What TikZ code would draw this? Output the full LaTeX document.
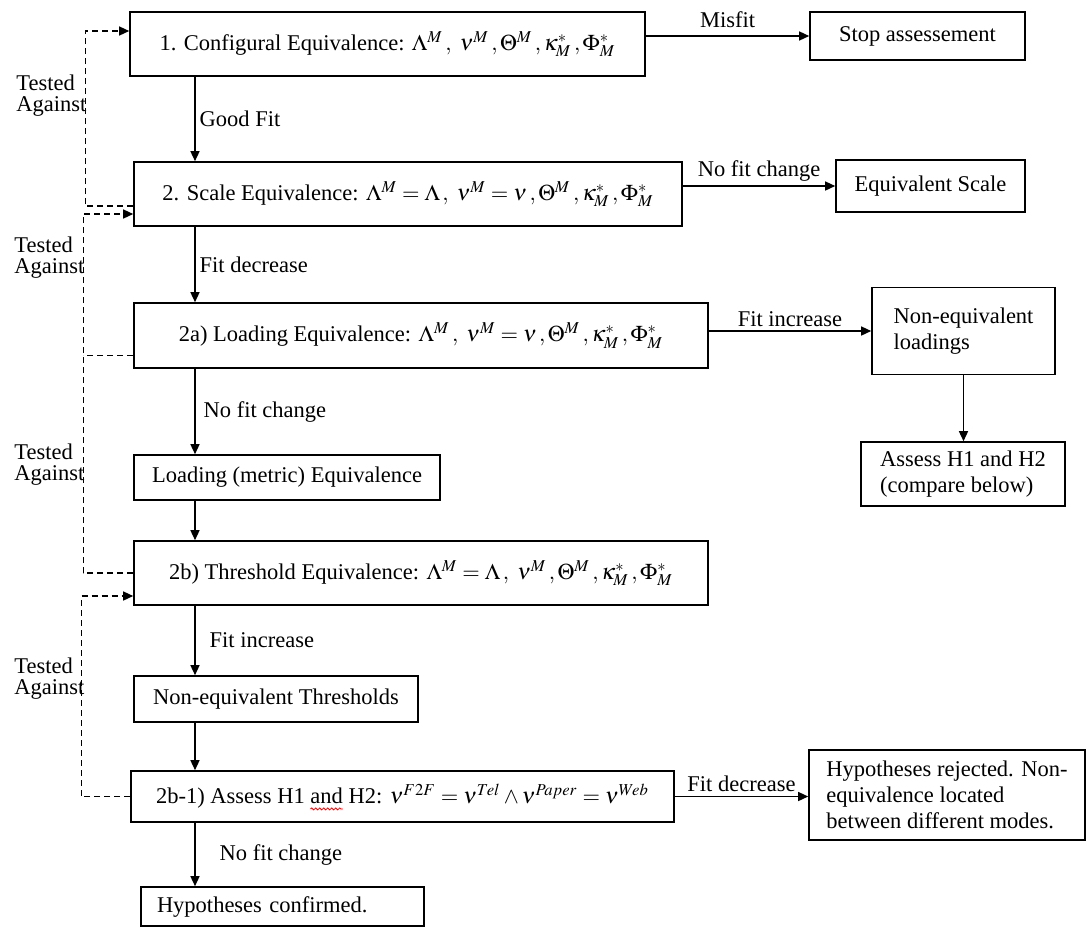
\documentclass[tikz,border=0pt]{standalone}
\usepackage{mathptmx}
\usepackage{fontspec}
\setmainfont{Liberation Serif}
\usetikzlibrary{arrows.meta,positioning,decorations.pathmorphing}
\tikzset{
  box/.style={draw,line width=0.8pt,align=center,inner sep=3pt},
  lbl/.style={inner sep=2pt},
  tested/.style={anchor=west,align=left,inner sep=0pt,font=\fontsize{11.25}{10.5}\selectfont},
  arr/.style={-{Triangle[length=5pt,width=4.5pt]},line width=0.7pt},
  darr/.style={arr,dash pattern=on 3pt off 2pt},
  dline/.style={line width=0.7pt,dash pattern=on 3pt off 2pt},
}
\newlength{\wavelen}
\newcommand{\spellwave}[1]{\settowidth{\wavelen}{#1}#1\tikz[overlay,baseline=0pt]\draw[red,line width=0.4pt,solid,-,decorate,decoration={snake,amplitude=0.5pt,segment length=2pt}] (-\wavelen,-2.5pt) -- (0pt,-2.5pt);}

\begin{document}
\begin{tikzpicture}[x=0.5pt,y=-0.5pt,font=\fontsize{11.25}{13}\selectfont]
\useasboundingbox (0,0) rectangle (1088,928);
\coordinate (col) at (195,0);
% main column
\node[box,minimum width=257.5pt,minimum height=32pt] (b1) at (387.5,44) {1. Configural Equivalence: $\Lambda^{M}\,,\ \nu^{M}\,,\Theta^{M}\,,\kappa^{*}_{M}\,,\Phi^{*}_{M}$};
\node[box,minimum width=274pt,minimum height=32pt] (b2) at (408,194) {2. Scale Equivalence: $\Lambda^{M}=\Lambda\,,\ \nu^{M}=\nu\,,\Theta^{M}\,,\kappa^{*}_{M}\,,\Phi^{*}_{M}$};
\node[box,minimum width=287pt,minimum height=32.5pt] (b2a) at (421,335.5) {2a) Loading Equivalence: $\Lambda^{M}\,,\ \nu^{M}=\nu\,,\Theta^{M}\,,\kappa^{*}_{M}\,,\Phi^{*}_{M}$};
\node[box,minimum width=153pt,minimum height=22.5pt] (lm) at (287,477.5) {Loading (metric) Equivalence};
\node[box,minimum width=287pt,minimum height=32pt] (b2b) at (421,573) {2b) Threshold Equivalence: $\Lambda^{M}=\Lambda\,,\ \nu^{M}\,,\Theta^{M}\,,\kappa^{*}_{M}\,,\Phi^{*}_{M}$};
\node[box,minimum width=142pt,minimum height=23pt] (nthr) at (276,699) {Non-equivalent Thresholds};
\node[box,minimum width=271.5pt,minimum height=25.5pt] (b21) at (402.5,796.5) {2b-1) Assess H1 \spellwave{and} H2: $\nu^{F2F}=\nu^{Tel}\wedge\nu^{Paper}=\nu^{Web}$};
\node[box,align=left,text width=125.5pt,inner xsep=8pt,minimum height=19.5pt] (conf) at (282.5,906.5) {Hypotheses confirmed.};
% right column
\node[box,minimum width=107.5pt,minimum height=24pt] (stop) at (917.5,36) {Stop assessement};
\node[box,minimum width=94.5pt,minimum height=26pt] (eqs) at (930.5,186) {Equivalent Scale};
\node[box,align=left,minimum width=91.5pt,minimum height=43.5pt] (nel) at (963.5,331) {Non-equivalent\\loadings};
\node[box,align=left,minimum width=102pt,minimum height=32pt] (ass) at (963,474) {Assess H1 and H2\\(compare below)};
\node[box,align=left,minimum width=138pt,minimum height=45pt] (rej) at (947,795) {Hypotheses rejected. Non-\\equivalence located\\between different modes.};
% tested against
\node[tested] (ta1) at (16,96) {Tested\\Against};
\node[tested] (ta2) at (14,258) {Tested\\Against};
\node[tested] (ta3) at (14,465) {Tested\\Against};
\node[tested] (ta4) at (14,679) {Tested\\Against};

\draw[arr] (b1.south -| col) -- node[lbl,right] {Good Fit} (b2.north -| col);
\draw[arr] (b2.south -| col) -- node[lbl,right] {Fit decrease} (b2a.north -| col);
\draw[arr] (b2a.south -| col) -- node[lbl,right,xshift=2pt] {No fit change} (lm.north -| col);
\draw[arr] (lm.south -| col) -- (b2b.north -| col);
\draw[arr] (b2b.south -| col) -- node[lbl,right,xshift=5pt] {Fit increase} (nthr.north -| col);
\draw[arr] (nthr.south -| col) -- (b21.north -| col);
\draw[arr] (b21.south -| col) -- node[lbl,right,xshift=10pt] {No fit change} (conf.north -| col);
\draw[arr] (b1.east |- stop.west) -- node[lbl,above,yshift=2pt] {Misfit} (stop.west);
\draw[arr] (b2.east |- eqs.west) -- node[lbl,above] {No fit change} (eqs.west);
\draw[arr] (b2a.east |- nel.west) -- node[lbl,above] {Fit increase} (nel.west);
\draw[arr] (nel.south) -- (nel.south |- ass.north);
\draw[arr] (b21.east) -- node[lbl,above] {Fit decrease} (b21.east -| rej.west);

\draw[darr] ([yshift=-6pt]b2.west) -- ++(-48,0) |- ([yshift=6.5pt]b1.west);
\draw[darr] (b2b.west) -- ++(-50,0) |- ([yshift=-10pt]b2.west);
\draw[dline] ([yshift=-10pt]b2a.west) -- ++(-50,0);
\draw[darr] (b21.west) -- ++(-49,0) |- ([yshift=-11.5pt]b2b.west);
\end{tikzpicture}
\end{document}
